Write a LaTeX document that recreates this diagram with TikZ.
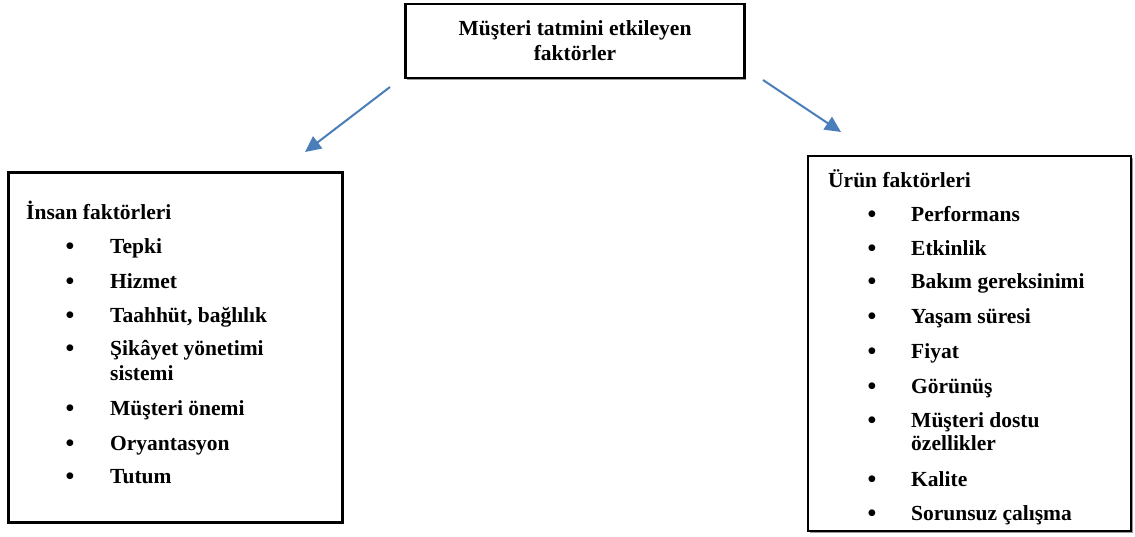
\documentclass[tikz,border=0pt]{standalone}
\usepackage{fontspec}
\setmainfont{Liberation Serif}
\usetikzlibrary{arrows.meta,shadows}

\definecolor{linkblue}{RGB}{74,126,187}

\tikzset{
  factorbox/.style={draw=black, line width=2.5pt, fill=white,
    drop shadow={shadow xshift=1.5pt, shadow yshift=-1.5pt, fill=black!40, opacity=1}},
  factortext/.style={font=\bfseries\fontsize{21.5}{25}\selectfont, inner sep=0pt, anchor=base west},
  dot/.style={font=\bfseries\fontsize{25}{25}\selectfont, inner sep=0pt, anchor=base},
  link/.style={linkblue, line width=2pt, -{Triangle[length=16pt,width=15pt]}}
}

\begin{document}
\begin{tikzpicture}[x=1pt,y=-1pt]
\useasboundingbox (0,0) rectangle (1135,536);

% Top box
\node[factorbox, minimum width=339pt, minimum height=74pt, align=center,
  font=\bfseries\fontsize{21.5}{25}\selectfont] (tatmin) at (575,41)
{Müşteri tatmini etkileyen\\faktörler};

% Left box
\node[factorbox, minimum width=334pt, minimum height=350pt] (insan) at (175.5,347.5) {};
\node[factortext] (insanhead) at (26,219) {İnsan faktörleri};

\node[dot] (ib1) at (70,254) {\textbullet};
\node[factortext] (tepki) at (110,253) {Tepki};
\node[dot] (ib2) at (70,289) {\textbullet};
\node[factortext] (hizmet) at (110,288) {Hizmet};
\node[dot] (ib3) at (70,323) {\textbullet};
\node[factortext] (taahhut) at (110,322) {Taahhüt, bağlılık};
\node[dot] (ib4) at (70,356) {\textbullet};
\node[factortext] (sikayet) at (110,355) {Şikâyet yönetimi};
\node[factortext] (sistemi) at (110,380) {sistemi};
\node[dot] (ib5) at (70,416) {\textbullet};
\node[factortext] (onem) at (110,415) {Müşteri önemi};
\node[dot] (ib6) at (70,451) {\textbullet};
\node[factortext] (oryantasyon) at (110,450) {Oryantasyon};
\node[dot] (ib7) at (70,484) {\textbullet};
\node[factortext] (tutum) at (110,483) {Tutum};

% Right box
\node[factorbox, minimum width=323pt, minimum height=375pt] (urun) at (969.5,343.5) {};
\node[factortext] (urunhead) at (828,187) {Ürün faktörleri};

\node[dot] (ub1) at (872,222) {\textbullet};
\node[factortext] (performans) at (911,221) {Performans};
\node[dot] (ub2) at (872,256) {\textbullet};
\node[factortext] (etkinlik) at (911,255) {Etkinlik};
\node[dot] (ub3) at (872,289) {\textbullet};
\node[factortext] (bakim) at (911,288) {Bakım gereksinimi};
\node[dot] (ub4) at (872,324) {\textbullet};
\node[factortext] (yasam) at (911,323) {Yaşam süresi};
\node[dot] (ub5) at (872,359) {\textbullet};
\node[factortext] (fiyat) at (911,358) {Fiyat};
\node[dot] (ub6) at (872,394) {\textbullet};
\node[factortext] (gorunus) at (911,393) {Görünüş};
\node[dot] (ub7) at (872,428) {\textbullet};
\node[factortext] (dostu) at (911,427) {Müşteri dostu};
\node[factortext] (ozellik) at (911,450) {özellikler};
\node[dot] (ub8) at (872,487) {\textbullet};
\node[factortext] (kalite) at (911,486) {Kalite};
\node[dot] (ub9) at (872,521) {\textbullet};
\node[factortext] (sorunsuz) at (911,520) {Sorunsuz çalışma};

% Arrows
\coordinate (leftstart) at (390,87);
\coordinate (lefttip) at (305,152);
\coordinate (rightstart) at (763,80);
\coordinate (righttip) at (841,132);
\draw[link] (leftstart) -- (lefttip);
\draw[link] (rightstart) -- (righttip);

\end{tikzpicture}
\end{document}
